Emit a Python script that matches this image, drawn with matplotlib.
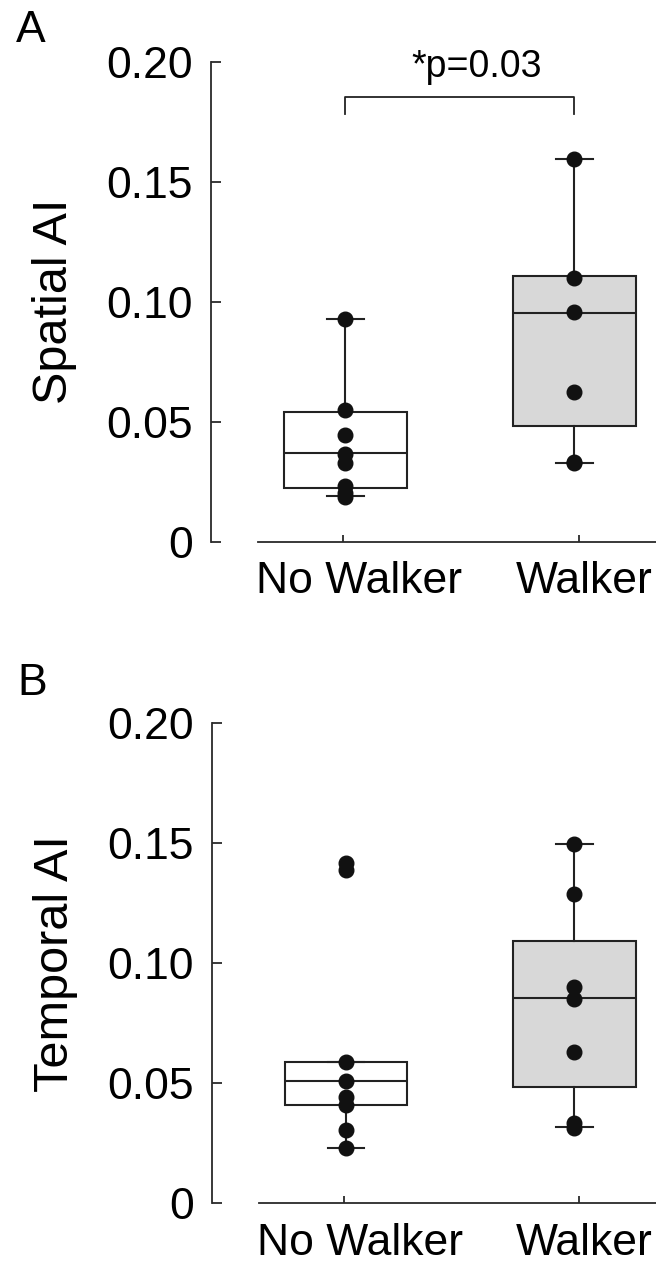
import numpy as np
import matplotlib
matplotlib.use("Agg")
import matplotlib.pyplot as plt
from matplotlib.transforms import ScaledTranslation

plt.rcParams['font.family'] = ['Liberation Sans', 'DejaVu Sans']

# Group names on the x axis
groups = ['No Walker', 'Walker']
y_ticks = [0, 0.05, 0.10, 0.15, 0.20]
y_tick_labels = ['0', '0.05', '0.10', '0.15', '0.20']

# Panel A - Spatial AI, individual subjects
spatial_no_walker = [0.0928, 0.055, 0.0443, 0.0365, 0.0328, 0.0230, 0.0203, 0.0186]
spatial_walker = [0.1595, 0.110, 0.0956, 0.0624, 0.0332, 0.0327]

# Panel A box statistics (whisker low, q1, median, q3, whisker high)
spatial_box_no_walker = [0.0192, 0.0224, 0.0370, 0.0540, 0.0928]
spatial_box_walker = [0.0329, 0.0480, 0.0953, 0.1105, 0.1595]

# Panel B - Temporal AI, individual subjects
temporal_no_walker = [0.1417, 0.1389, 0.0590, 0.0509, 0.0444, 0.0410, 0.0305, 0.0229]
temporal_walker = [0.1497, 0.1288, 0.0900, 0.0850, 0.0632, 0.0333, 0.0313]

# Panel B box statistics
temporal_box_no_walker = [0.0229, 0.0410, 0.0509, 0.0590, 0.0590]
temporal_box_walker = [0.0318, 0.0486, 0.0854, 0.1094, 0.1497]

# Significance annotation for panel A
sig_text = '*p=0.03'
sig_bar_y = 0.1853
sig_leg_y = 0.178
sig_text_y = 0.1938

box_pos = [1.01, 1.98]
box_colors = ['white', '#d8d8d8']
line_col = '#222222'
# the group names sit a bit right of their ticks in the original (pixels)
label_shift = [16, 5]


def make_stats(box):
    # turn [lo, q1, med, q3, hi] into the dict bxp wants
    return dict(whislo=box[0], q1=box[1], med=box[2], q3=box[3], whishi=box[4], fliers=[])


def draw_panel(fig, ax, boxes, points, ylabel):
    stats = [make_stats(b) for b in boxes]
    bp = ax.bxp(stats, positions=box_pos, widths=0.52, capwidths=0.155,
                showfliers=False, patch_artist=True,
                boxprops=dict(edgecolor=line_col, linewidth=1.5),
                medianprops=dict(color=line_col, linewidth=1.5),
                whiskerprops=dict(color=line_col, linewidth=1.5),
                capprops=dict(color=line_col, linewidth=1.5))
    for patch, c in zip(bp['boxes'], box_colors):
        patch.set_facecolor(c)

    # individual data points on top of the boxes
    for pos, vals in zip(box_pos, points):
        ax.plot(np.full(len(vals), pos), vals, 'o', color='#111111',
                markersize=10.5, zorder=5)

    # MATLAB-like axes: separated y and x axis lines
    ax.set_xlim(0.4407, 2.326)
    ax.set_ylim(0, 0.2)
    for s in ['top', 'right']:
        ax.spines[s].set_visible(False)
    ax.spines['left'].set_bounds(0, 0.2)
    ax.spines['bottom'].set_bounds(0.64, 2.326)
    for s in ['left', 'bottom']:
        ax.spines[s].set_color('#2a2a2a')
        ax.spines[s].set_linewidth(1.3)

    ax.set_xticks([1, 2])
    ax.set_xticklabels(groups)
    ax.set_yticks(y_ticks)
    ax.set_yticklabels(y_tick_labels)
    ax.tick_params(axis='y', direction='in', length=7, width=1.3, color='#2a2a2a',
                   labelsize=32, pad=13)
    ax.tick_params(axis='x', direction='in', length=5, width=1.3, color='#2a2a2a',
                   labelsize=32, pad=14)
    for lab, dx in zip(ax.get_xticklabels(), label_shift):
        lab.set_transform(lab.get_transform() +
                          ScaledTranslation(dx / 100, 0, fig.dpi_scale_trans))
    ax.set_ylabel(ylabel, fontsize=35)
    ax.yaxis.set_label_coords(-0.301, 0.5)
    ax.patch.set_alpha(0)


fig = plt.figure(figsize=(6.56, 12.67), dpi=100)

ax_a = fig.add_axes([0.3216, 0.5725, 0.6784, 0.3788])
draw_panel(fig, ax_a, [spatial_box_no_walker, spatial_box_walker],
           [spatial_no_walker, spatial_walker], 'Spatial AI')

# significance bracket
ax_a.plot([box_pos[0], box_pos[0], box_pos[1], box_pos[1]],
          [sig_leg_y, sig_bar_y, sig_bar_y, sig_leg_y], color=line_col, linewidth=1.3)
ax_a.text(1.568, sig_text_y, sig_text, ha='center', va='baseline', fontsize=27)

ax_b = fig.add_axes([0.3227, 0.0503, 0.6773, 0.3788])
draw_panel(fig, ax_b, [temporal_box_no_walker, temporal_box_walker],
           [temporal_no_walker, temporal_walker], 'Temporal AI')

# panel letters
fig.text(16 / 656, 1 - 42 / 1267, 'A', fontsize=32, va='baseline')
fig.text(17 / 656, 1 - 695 / 1267, 'B', fontsize=32, va='baseline')

fig.savefig('out.png', dpi=100)
